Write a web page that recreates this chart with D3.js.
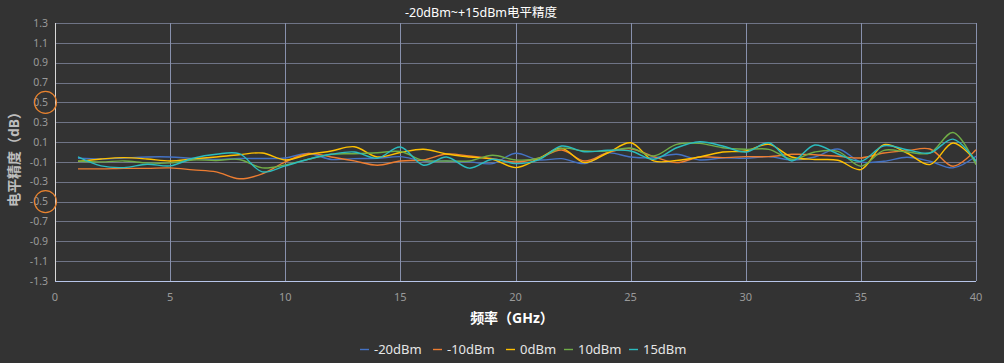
<!DOCTYPE html>
<html>
<head>
<meta charset="utf-8">
<script src="https://cdn.jsdelivr.net/npm/d3@7"></script>
<style>
    html, body { margin: 0; padding: 0; background: #333333; }
    svg { display: block; font-family: "Noto Sans", "Noto Sans CJK SC", sans-serif; }
</style>
</head>
<body>
<svg id="chart" width="1004" height="363"></svg>
<script>
(function() {
    'use strict';

    // frequency points (GHz)
    var freqs = d3.range(1, 41);

    var seriesNames = ['-20dBm', '-10dBm', '0dBm', '10dBm', '15dBm'];
    var seriesColors = ['#4472c4', '#ed7d31', '#ffc000', '#70ad47', '#2bbcbf'];

    var m20 = [-0.063, -0.07, -0.06, -0.05, -0.05, -0.065, -0.075, -0.065, -0.065, -0.06,
               -0.015, -0.075, -0.067, -0.063, -0.047, -0.09, -0.09, -0.1, -0.117, -0.013,
               -0.08, -0.067, -0.117, -0.01, -0.05, -0.057, -0.023, -0.08, -0.06, -0.063,
               -0.047, -0.08, -0.05, 0.03, -0.1, -0.093, -0.053, -0.093, -0.16, -0.043];
    var m10 = [-0.17, -0.17, -0.165, -0.165, -0.16, -0.18, -0.2, -0.27, -0.22, -0.1,
               -0.015, -0.05, -0.09, -0.133, -0.09, -0.08, -0.02, -0.04, -0.067, -0.1,
               -0.063, 0.02, -0.09, -0.007, 0.033, -0.047, -0.107, -0.05, -0.057, -0.047,
               -0.047, -0.023, -0.027, -0.043, -0.06, -0.01, 0.013, 0.03, -0.143, 0.023];
    var p0  = [-0.095, -0.07, -0.057, -0.07, -0.09, -0.07, -0.05, -0.027, -0.01, -0.08,
               -0.025, 0.01, 0.053, -0.05, -0.005, 0.027, -0.02, -0.05, -0.073, -0.157,
               -0.067, 0.037, -0.107, -0.01, 0.093, -0.09, -0.085, -0.05, 0.0, 0.01,
               0.077, -0.05, -0.075, -0.083, -0.177, 0.073, -0.01, -0.127, 0.09, -0.093];
    var p10 = [-0.09, -0.1, -0.09, -0.11, -0.11, -0.08, -0.085, -0.075, -0.16, -0.13,
               -0.073, -0.023, -0.017, -0.007, 0.005, -0.085, -0.09, -0.09, -0.033, -0.08,
               -0.063, 0.037, 0.01, 0.01, 0.04, -0.04, 0.077, 0.087, 0.043, 0.027,
               0.027, -0.073, 0.0, 0.007, -0.143, 0.017, 0.0, -0.01, 0.197, -0.127];
    var p15 = [-0.05, -0.14, -0.157, -0.123, -0.14, -0.063, -0.023, -0.017, -0.2, -0.14,
               -0.073, -0.023, 0.0, -0.063, 0.05, -0.133, -0.05, -0.163, -0.073, -0.117,
               -0.08, 0.06, 0.003, 0.017, 0.01, -0.073, 0.043, 0.103, 0.06, 0.0,
               0.093, -0.09, 0.07, -0.02, -0.093, 0.063, 0.023, -0.01, 0.13, -0.093];

    var xTicks = [0, 5, 10, 15, 20, 25, 30, 35, 40];
    var yTicks = [1.3, 1.1, 0.9, 0.7, 0.5, 0.3, 0.1, -0.1, -0.3, -0.5, -0.7, -0.9, -1.1, -1.3];
    var marked = [0.5, -0.5];   // circled y labels

    var series = [m20, m10, p0, p10, p15];

    /******************************************************************
        layout
     ******************************************************************/
    var svg = d3.select('#chart');
    var left = 55, right = 976, top = 23, bottom = 281;

    var x = d3.scaleLinear().domain([0, 40]).range([left, right]);
    var y = d3.scaleLinear().domain([-1.3, 1.3]).range([bottom, top]);

    // horizontal grid
    svg.append('g')
        .selectAll('line')
        .data(yTicks.filter(function(d) { return d !== -1.3; }))
        .join('line')
            .attr('x1', left).attr('x2', right)
            .attr('y1', function(d) { return Math.round(y(d)) + 0.5; })
            .attr('y2', function(d) { return Math.round(y(d)) + 0.5; })
            .attr('stroke', '#6f7486')
            .attr('stroke-width', 1);

    // vertical grid
    svg.append('g')
        .selectAll('line')
        .data(xTicks.filter(function(d) { return d > 0; }))
        .join('line')
            .attr('x1', function(d) { return Math.round(x(d)) + 0.5; })
            .attr('x2', function(d) { return Math.round(x(d)) + 0.5; })
            .attr('y1', top).attr('y2', bottom)
            .attr('stroke', '#8891ad')
            .attr('stroke-width', 1);

    // axes lines
    svg.append('line')
        .attr('x1', left + 0.5).attr('x2', left + 0.5)
        .attr('y1', top).attr('y2', bottom)
        .attr('stroke', '#d8d8d8');
    svg.append('line')
        .attr('x1', left).attr('x2', right)
        .attr('y1', Math.round(bottom) + 0.5).attr('y2', Math.round(bottom) + 0.5)
        .attr('stroke', '#b8c6ea');

    // y tick labels
    svg.append('g')
        .selectAll('text')
        .data(yTicks)
        .join('text')
            .attr('x', 48)
            .attr('y', function(d) { return y(d); })
            .attr('dy', '0.35em')
            .attr('text-anchor', 'end')
            .attr('fill', '#9a9a9a')
            .style('font-size', '10.5px')
            .text(function(d) { return d3.format('.1f')(d).replace('−', '-'); });

    // x tick labels
    svg.append('g')
        .selectAll('text')
        .data(xTicks)
        .join('text')
            .attr('x', function(d) { return x(d); })
            .attr('y', 301)
            .attr('text-anchor', 'middle')
            .attr('fill', '#9a9a9a')
            .style('font-size', '11px')
            .text(function(d) { return d; });

    // circled labels
    svg.append('g')
        .selectAll('circle')
        .data(marked)
        .join('circle')
            .attr('cx', 45.5)
            .attr('cy', function(d) { return y(d); })
            .attr('r', 11)
            .attr('fill', 'none')
            .attr('stroke', '#e8832f')
            .attr('stroke-width', 1.2);

    /******************************************************************
        lines
     ******************************************************************/
    var line = d3.line()
        .x(function(d, i) { return x(freqs[i]); })
        .y(function(d) { return y(d); })
        .curve(d3.curveCatmullRom.alpha(0.5));

    svg.append('g')
        .selectAll('path')
        .data(series)
        .join('path')
            .attr('d', line)
            .attr('fill', 'none')
            .attr('stroke', function(d, i) { return seriesColors[i]; })
            .attr('stroke-width', 1.4);

    /******************************************************************
        titles
     ******************************************************************/
    svg.append('text')
        .attr('x', 481).attr('y', 17)
        .attr('text-anchor', 'middle')
        .attr('fill', '#ffffff')
        .style('font-size', '12.5px')
        .text('-20dBm~+15dBm电平精度');

    svg.append('text')
        .attr('transform', 'translate(19,156) rotate(-90)')
        .attr('text-anchor', 'middle')
        .attr('fill', '#bdbdbd')
        .style('font-size', '14px')
        .style('font-weight', 'bold')
        .text('电平精度（dB）');

    svg.append('text')
        .attr('x', 512).attr('y', 323)
        .attr('text-anchor', 'middle')
        .attr('fill', '#ffffff')
        .style('font-size', '14px')
        .style('font-weight', 'bold')
        .text('频率（GHz）');

    /******************************************************************
        legend
     ******************************************************************/
    var legendX = [360, 433, 506, 564, 629];
    var legend = svg.append('g')
        .selectAll('g')
        .data(seriesNames)
        .join('g')
            .attr('transform', function(d, i) { return 'translate(' + [legendX[i], 349] + ')'; });

    legend.append('line')
        .attr('x1', 0).attr('x2', 9)
        .attr('y1', 0.5).attr('y2', 0.5)
        .attr('stroke', function(d, i) { return seriesColors[i]; })
        .attr('stroke-width', 1.4);

    legend.append('text')
        .attr('x', 14).attr('y', 0)
        .attr('dy', '0.35em')
        .attr('fill', '#e6e6e6')
        .style('font-size', '13px')
        .text(function(d) { return d; });
})();
</script>
</body>
</html>
